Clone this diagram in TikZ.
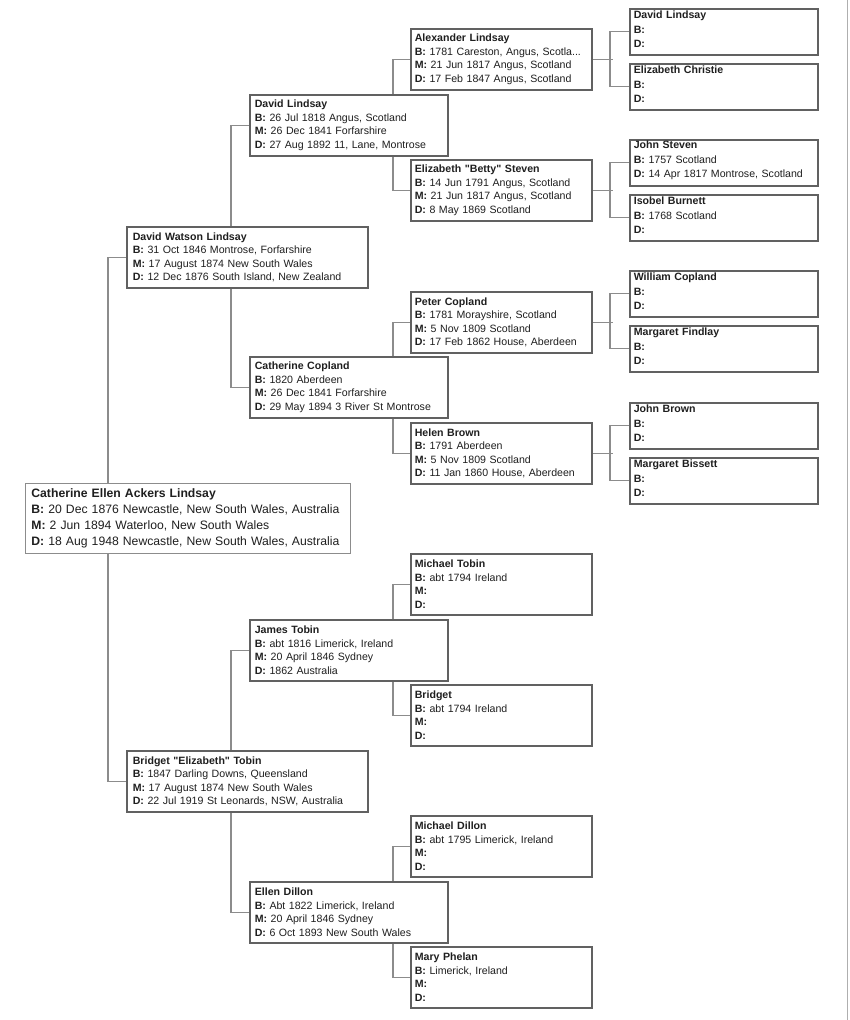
\documentclass[tikz,border=0pt]{standalone}
\usepackage{fontspec}
\setmainfont{Liberation Sans}
\usetikzlibrary{positioning}
\definecolor{boxGray}{gray}{0.38}
\definecolor{lineGray}{gray}{0.55}
\definecolor{textBlack}{gray}{0.12}
\pgfdeclarelayer{bg}
\pgfsetlayers{bg,main}
\newcommand{\ev}[1]{\textbf{#1:}}
\newcommand{\q}{\textquotedbl}
\newcommand{\lift}{\par\vspace*{5pt}}

\begin{document}
\begin{tikzpicture}[x=1pt, y=-1pt,
    person/.style={draw=boxGray, line width=1.6pt, fill=white, anchor=north west,
        align=left, inner xsep=5pt, inner ysep=0pt, text=textBlack},
    root/.style={person, draw=lineGray, line width=0.8pt, inner xsep=6pt,
        minimum width=325, minimum height=70, text width=313,
        font=\fontsize{12.2}{16}\selectfont},
    genA/.style={person, inner xsep=6pt, minimum width=241, minimum height=61, text width=229,
        font=\fontsize{10.6}{13.5}\selectfont},
    genB/.style={person, minimum width=198, minimum height=61, text width=188,
        font=\fontsize{10.6}{13.5}\selectfont},
    genC/.style={person, inner xsep=4pt, minimum width=181, minimum height=61, text width=173,
        font=\fontsize{10.6}{13.5}\selectfont},
    genD/.style={person, inner xsep=4pt, minimum width=188, minimum height=46, text width=180,
        font=\fontsize{10.6}{14.5}\selectfont},
    link/.style={draw=lineGray, line width=1.1pt}]

    \useasboundingbox (0,0) rectangle (849,1020);

    % Root
    \node[root] (cel) at (25,483) {\textbf{Catherine Ellen Ackers Lindsay}\\
        \ev{B} 20 Dec 1876 Newcastle, New South Wales, Australia\\
        \ev{M} 2 Jun 1894 Waterloo, New South Wales\\
        \ev{D} 18 Aug 1948 Newcastle, New South Wales, Australia};

    % Parents
    \node[genA] (dwl) at (126,226) {\textbf{David Watson Lindsay}\\
        \ev{B} 31 Oct 1846 Montrose, Forfarshire\\
        \ev{M} 17 August 1874 New South Wales\\
        \ev{D} 12 Dec 1876 South Island, New Zealand};
    \node[genA] (bet) at (126,750) {\textbf{Bridget \q Elizabeth\q\ Tobin}\\
        \ev{B} 1847 Darling Downs, Queensland\\
        \ev{M} 17 August 1874 New South Wales\\
        \ev{D} 22 Jul 1919 St Leonards, NSW, Australia};

    % Grandparents
    \node[genB] (dl) at (249,94) {\textbf{David Lindsay}\\
        \ev{B} 26 Jul 1818 Angus, Scotland\\
        \ev{M} 26 Dec 1841 Forfarshire\\
        \ev{D} 27 Aug 1892 11, Lane, Montrose};
    \node[genB] (cc) at (249,356) {\textbf{Catherine Copland}\\
        \ev{B} 1820 Aberdeen\\
        \ev{M} 26 Dec 1841 Forfarshire\\
        \ev{D} 29 May 1894 3 River St Montrose};
    \node[genB] (jt) at (249,619) {\textbf{James Tobin}\\
        \ev{B} abt 1816 Limerick, Ireland\\
        \ev{M} 20 April 1846 Sydney\\
        \ev{D} 1862 Australia};
    \node[genB] (ed) at (249,881) {\textbf{Ellen Dillon}\\
        \ev{B} Abt 1822 Limerick, Ireland\\
        \ev{M} 20 April 1846 Sydney\\
        \ev{D} 6 Oct 1893 New South Wales};

    % Great-grandparents
    \node[genC] (al) at (410,28) {\textbf{Alexander Lindsay}\\
        \ev{B} 1781 Careston, Angus, Scotla...\\
        \ev{M} 21 Jun 1817 Angus, Scotland\\
        \ev{D} 17 Feb 1847 Angus, Scotland};
    \node[genC] (es) at (410,159) {\textbf{Elizabeth \q Betty\q\ Steven}\\
        \ev{B} 14 Jun 1791 Angus, Scotland\\
        \ev{M} 21 Jun 1817 Angus, Scotland\\
        \ev{D} 8 May 1869 Scotland};
    \node[genC] (pc) at (410,291) {\textbf{Peter Copland}\\
        \ev{B} 1781 Morayshire, Scotland\\
        \ev{M} 5 Nov 1809 Scotland\\
        \ev{D} 17 Feb 1862 House, Aberdeen};
    \node[genC] (hb) at (410,422) {\textbf{Helen Brown}\\
        \ev{B} 1791 Aberdeen\\
        \ev{M} 5 Nov 1809 Scotland\\
        \ev{D} 11 Jan 1860 House, Aberdeen};
    \node[genC] (mt) at (410,553) {\textbf{Michael Tobin}\\
        \ev{B} abt 1794 Ireland\\
        \ev{M}\\
        \ev{D}};
    \node[genC] (br) at (410,684) {\textbf{Bridget}\\
        \ev{B} abt 1794 Ireland\\
        \ev{M}\\
        \ev{D}};
    \node[genC] (md) at (410,815) {\textbf{Michael Dillon}\\
        \ev{B} abt 1795 Limerick, Ireland\\
        \ev{M}\\
        \ev{D}};
    \node[genC] (mp) at (410,946) {\textbf{Mary Phelan}\\
        \ev{B} Limerick, Ireland\\
        \ev{M}\\
        \ev{D}};

    % Great-great-grandparents
    \node[genD] (dls) at (629,8) {\textbf{David Lindsay}\\ \ev{B}\\ \ev{D}\lift};
    \node[genD] (ec) at (629,63) {\textbf{Elizabeth Christie}\\ \ev{B}\\ \ev{D}\lift};
    \node[genD] (js) at (629,139) {\textbf{John Steven}\\ \ev{B} 1757 Scotland\\ \ev{D} 14 Apr 1817 Montrose, Scotland\lift};
    \node[genD] (ib) at (629,194) {\textbf{Isobel Burnett}\\ \ev{B} 1768 Scotland\\ \ev{D}\lift};
    \node[genD] (wc) at (629,270) {\textbf{William Copland}\\ \ev{B}\\ \ev{D}\lift};
    \node[genD] (mf) at (629,325) {\textbf{Margaret Findlay}\\ \ev{B}\\ \ev{D}\lift};
    \node[genD] (jb) at (629,402) {\textbf{John Brown}\\ \ev{B}\\ \ev{D}\lift};
    \node[genD] (mb) at (629,457) {\textbf{Margaret Bissett}\\ \ev{B}\\ \ev{D}\lift};

    % Connectors (behind the boxes)
    \begin{pgfonlayer}{bg}
        \draw[link] (dwl.west) -- ++(-18,0) |- (bet.west);
        \draw[link] (dl.west) -- ++(-18,0) |- (cc.west);
        \draw[link] (jt.west) -- ++(-18,0) |- (ed.west);
        \draw[link] (al.west) -- ++(-17,0) |- (es.west);
        \draw[link] (pc.west) -- ++(-17,0) |- (hb.west);
        \draw[link] (mt.west) -- ++(-17,0) |- (br.west);
        \draw[link] (md.west) -- ++(-17,0) |- (mp.west);
        % brackets to the last generation
        \draw[link] (al.east) -- ++(20,0);
        \draw[link] (dls.west) -- ++(-19,0) |- (ec.west);
        \draw[link] (es.east) -- ++(20,0);
        \draw[link] (js.west) -- ++(-19,0) |- (ib.west);
        \draw[link] (pc.east) -- ++(20,0);
        \draw[link] (wc.west) -- ++(-19,0) |- (mf.west);
        \draw[link] (hb.east) -- ++(20,0);
        \draw[link] (jb.west) -- ++(-19,0) |- (mb.west);
    \end{pgfonlayer}

    % Page edge
    \draw[draw=lineGray!70, line width=0.8pt] (847.5,0) -- (847.5,1020);
\end{tikzpicture}
\end{document}
